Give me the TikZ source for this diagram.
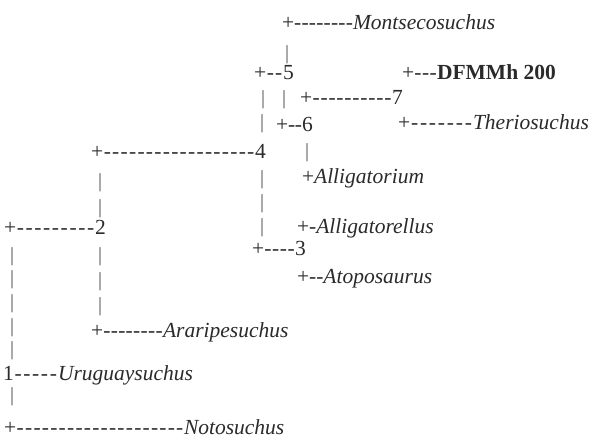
\documentclass[tikz,border=0pt]{standalone}
\usepackage{fontspec}
\setmainfont{Liberation Serif}[Ligatures=TeXOff]
\definecolor{txt}{HTML}{2A2A2A}
\definecolor{bar}{HTML}{555555}
\ExplSyntaxOn
\NewDocumentCommand\dashrun{mm}{\hbox to #2{\prg_replicate:nn{#1}{\hss-\hss}}}
\ExplSyntaxOff
\tikzset{
  t/.style={inner sep=0pt, outer sep=0pt, anchor=base west, text=txt, font=\fontsize{21.5bp}{26bp}\selectfont},
  it/.style={t, font=\fontsize{21.5bp}{26bp}\selectfont\itshape},
  bf/.style={t, font=\fontsize{21.5bp}{26bp}\selectfont\bfseries},
  vb/.style={t, text=bar, font=\fontsize{20bp}{24bp}\selectfont},
}
\begin{document}
\begin{tikzpicture}[x=1bp,y=-1bp]
\useasboundingbox (0,0) rectangle (593,442);
% row 1
\node[t] (p1) at (282,30) {+};
\node[t] (d1) at (p1.base east) {\dashrun{8}{58.9bp}};
\node[it] (montse) at (353,30) {Montsecosuchus};
\node[vb] (b1) at (285,60) {|};
% row 3
\node[t] (p5) at (254,80) {+};
\node[t] (d5) at (p5.base east) {\dashrun{2}{16.9bp}};
\node[t] (n5) at (283,80) {5};
\node[t] (pd) at (402,80) {+};
\node[t] (dd) at (pd.base east) {\dashrun{3}{22.9bp}};
\node[bf] (dfmmh) at (437,80) {DFMMh 200};
% row 4
\node[vb] (b2) at (261,105) {|};
\node[vb] (b3) at (282,105) {|};
\node[t] (p7) at (300,105) {+};
\node[t] (d7) at (p7.base east) {\dashrun{10}{79.9bp}};
\node[t] (n7) at (392,105) {7};
% row 5
\node[vb] (b4) at (260,129) {|};
\node[t] (p6) at (276,132) {+};
\node[t] (d6) at (p6.base east) {\dashrun{2}{13.9bp}};
\node[t] (n6) at (302,132) {6};
\node[t] (pt) at (398,130) {+};
\node[t] (dt) at (pt.base east) {\dashrun{7}{62.9bp}};
\node[it] (therio) at (473,130) {Theriosuchus};
% row 6
\node[t] (p4) at (91,159) {+};
\node[t] (d4) at (p4.base east) {\dashrun{18}{151.9bp}};
\node[t] (n4) at (255,159) {4};
\node[vb] (b5) at (305,158) {|};
% bars between 4 and 2
\node[vb] (b6) at (98,188) {|};
\node[vb] (b7) at (98,214) {|};
\node[vb] (b8) at (260,185) {|};
\node[vb] (b9) at (260,209) {|};
\node[vb] (b10) at (260,233) {|};
\node[t] (palg) at (302,184) {+\itshape Alligatorium};
% row 2
\node[t] (p2) at (4,235) {+};
\node[t] (d2) at (p2.base east) {\dashrun{9}{78.9bp}};
\node[t] (n2) at (95,235) {2};
\node[t] (palr) at (297,234) {+-\itshape Alligatorellus};
\node[t] (p3) at (252,256) {+};
\node[t] (d3) at (p3.base east) {\dashrun{4}{30.9bp}};
\node[t] (n3) at (295,256) {3};
\node[t] (pato) at (297,284) {+--\itshape Atoposaurus};
% left and middle bars
\node[vb] (l1) at (10,262) {|};
\node[vb] (l2) at (10,285) {|};
\node[vb] (l3) at (10,308) {|};
\node[vb] (l4) at (10,332) {|};
\node[vb] (l5) at (10,355) {|};
\node[vb] (m1) at (98,262) {|};
\node[vb] (m2) at (98,287) {|};
\node[vb] (m3) at (98,311) {|};
% Araripesuchus
\node[t] (pa) at (91,337) {+};
\node[t] (da) at (pa.base east) {\dashrun{8}{59.9bp}};
\node[it] (arari) at (163,337) {Araripesuchus};
% Uruguaysuchus
\node[t] (n1) at (3,380) {1};
\node[t] (du) at (n1.base east) {\dashrun{5}{44bp}};
\node[it] (urug) at (58,380) {Uruguaysuchus};
\node[vb] (l6) at (10,401) {|};
% Notosuchus
\node[t] (pn) at (4,434) {+};
\node[t] (dn) at (pn.base east) {\dashrun{20}{167.9bp}};
\node[it] (noto) at (184,434) {Notosuchus};
\end{tikzpicture}
\end{document}
